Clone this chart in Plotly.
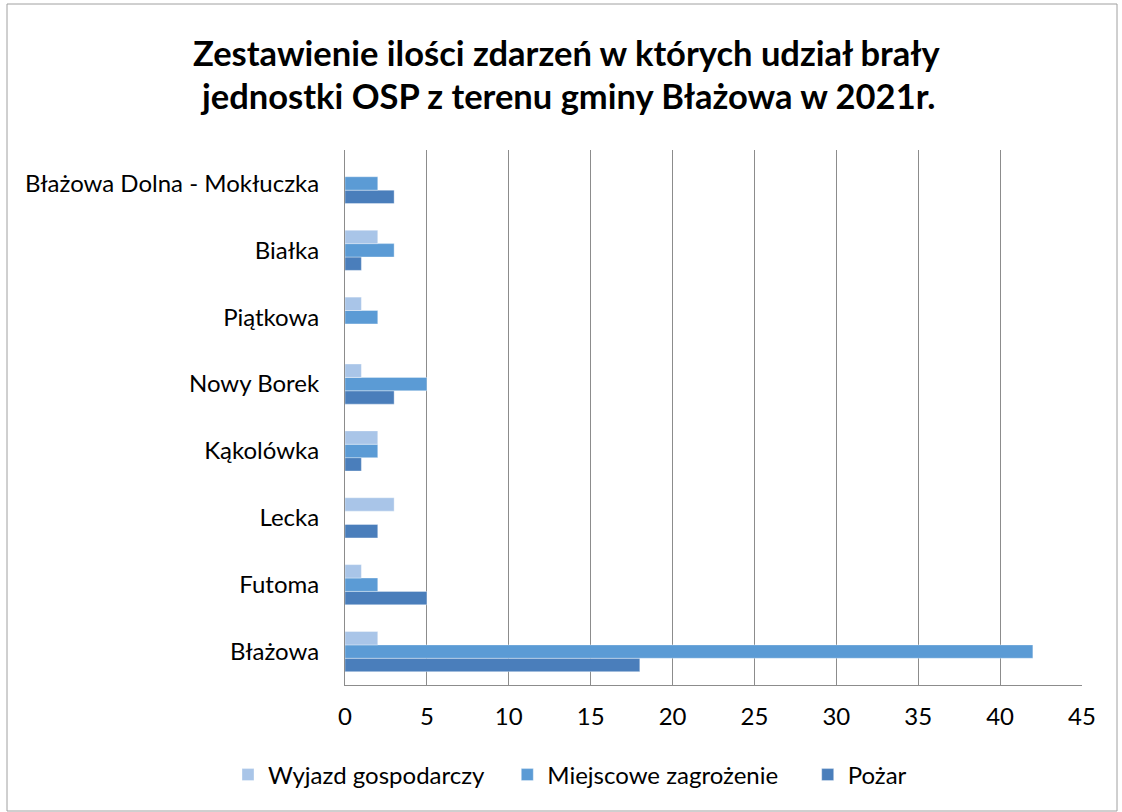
import plotly.graph_objects as go

categories = ["Błażowa", "Futoma", "Lecka", "Kąkolówka", "Nowy Borek",
              "Piątkowa", "Białka", "Błażowa Dolna - Mokłuczka"]
wyjazd = [2, 1, 3, 2, 1, 1, 2, 0]
miejscowe = [42, 2, 0, 2, 5, 2, 3, 2]
pozar = [18, 5, 2, 1, 3, 0, 1, 3]
x_ticks = [0, 5, 10, 15, 20, 25, 30, 35, 40, 45]
title_lines = ["Zestawienie ilości zdarzeń w których udział brały",
               "jednostki OSP z terenu gminy Błażowa w 2021r."]

W, H = 1122, 812
L, R, T, B = 345, 40, 150, 127
pw, ph = W - L - R, H - T - B
FONT = "Lato, Open Sans, sans-serif"
NB = "\u00a0"

fig = go.Figure()
series = [
    ("Pożar", pozar, "#4A7EBB", 3),
    ("Miejscowe zagrożenie" + NB * 4, miejscowe, "#5B9BD5", 2),
    ("Wyjazd gospodarczy" + NB * 3, wyjazd, "#A9C5E8", 1),
]
for name, vals, col, rank in series:
    fig.add_trace(go.Bar(
        y=categories, x=vals, name=name, orientation="h",
        marker=dict(color=col, line=dict(color="rgba(255,255,255,0.35)", width=1)),
        legendrank=rank,
    ))

def px_x(p):
    return (p - L) / pw

def px_y(p):
    return (H - B - p) / ph

annotations = [
    dict(text="<b>" + t + "</b>", xref="paper", yref="paper",
         x=px_x(567), y=px_y(yc), xanchor="center", yanchor="middle",
         showarrow=False, font=dict(size=34.5, family=FONT, color="#000000"))
    for t, yc in zip(title_lines, [52, 95])
]

fig.update_layout(
    width=W, height=H,
    margin=dict(l=L, r=R, t=T, b=B),
    paper_bgcolor="white", plot_bgcolor="white",
    barmode="group", bargap=0.4, bargroupgap=0,
    font=dict(family=FONT, color="#000000"),
    annotations=annotations,
    xaxis=dict(
        range=[0, 45], tickvals=x_ticks, showgrid=True, gridcolor="#8C8C8C", gridwidth=1,
        zeroline=False, showline=True, linecolor="#8C8C8C", mirror=False,
        ticks="", tickfont=dict(size=24), ticklabelstandoff=10,
    ),
    yaxis=dict(
        showline=True, linecolor="#8C8C8C", ticks="", showgrid=False,
        tickfont=dict(size=24), ticklabelstandoff=20,
    ),
    legend=dict(
        orientation="h", x=px_x(570), xanchor="center", y=px_y(775), yanchor="middle",
        font=dict(size=24), traceorder="normal", itemwidth=30,
    ),
    shapes=[dict(
        type="rect", xref="paper", yref="paper",
        x0=px_x(7), x1=px_x(1117), y0=px_y(811), y1=px_y(4),
        line=dict(color="#A0A0A0", width=1), fillcolor="rgba(0,0,0,0)", layer="below",
    )],
)

fig.write_html("out.html", config={"displayModeBar": False},
               post_script="document.body.style.margin='0';")
